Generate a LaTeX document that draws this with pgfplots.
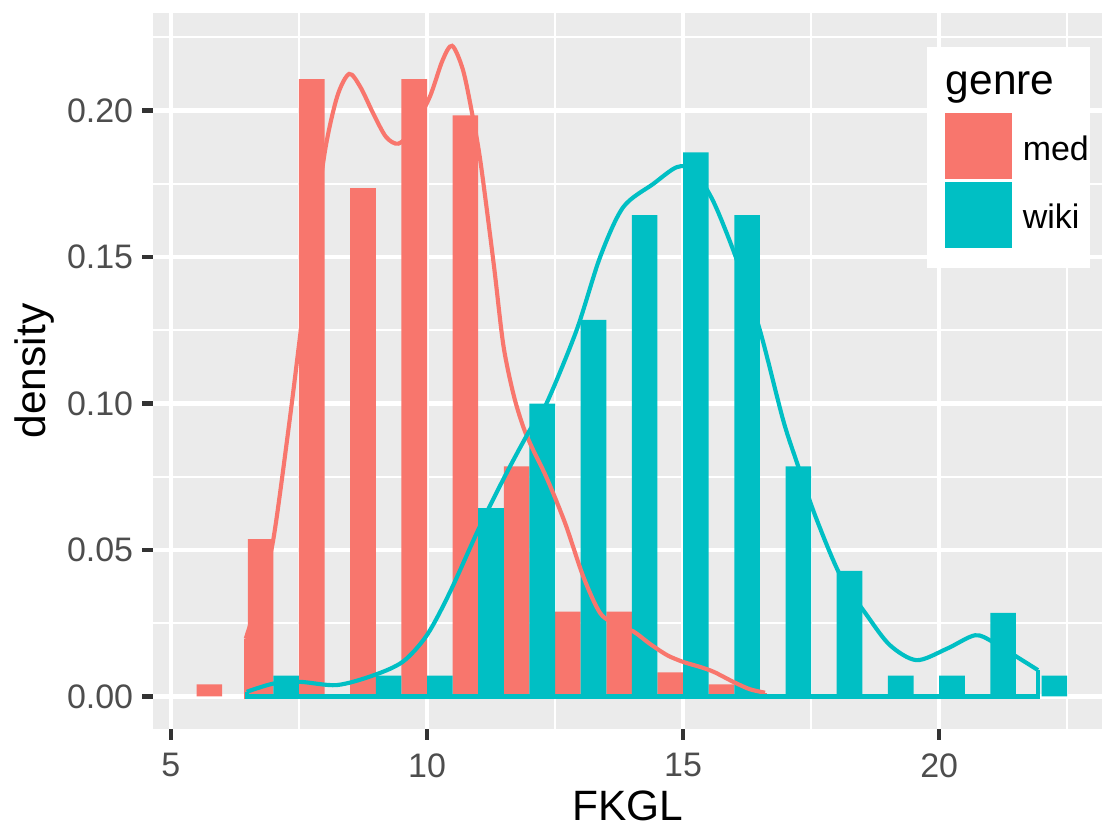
\documentclass[border=0pt]{standalone}
\usepackage{fontspec}
\setmainfont{Liberation Sans}
\usepackage{pgfplots}
\pgfplotsset{compat=1.18}
\definecolor{medc}{HTML}{F8766D}
\definecolor{wikic}{HTML}{00BFC4}
\definecolor{panel}{HTML}{EBEBEB}
\definecolor{tlc}{HTML}{4D4D4D}
\definecolor{tickc}{HTML}{333333}
\begin{document}
\begin{tikzpicture}
\begin{axis}[
  scale only axis, width=245.85pt, height=185.49pt,
  xmin=4.65, xmax=23.18, ymin=-0.0111, ymax=0.2333,
  axis background/.style={fill=panel},
  axis line style={draw=none},
  xtick={5,10,15,20}, ytick={0,0.05,0.1,0.15,0.2},
  minor xtick={7.5,12.5,17.5,22.5},
  minor ytick={0.025,0.075,0.125,0.175,0.225},
  grid=both,
  major grid style={white, line width=1.07pt},
  minor grid style={white, line width=0.53pt},
  tick align=outside, tick pos=left,
  major tick length=2.75pt, minor tick length=0pt,
  major tick style={color=tickc, line width=1.07pt},
  /pgf/number format/assume math mode=true,
  yticklabel style={/pgf/number format/fixed, /pgf/number format/fixed zerofill, /pgf/number format/precision=2, inner sep=0pt, xshift=-2.2pt},
  xticklabel style={inner sep=0pt, yshift=-3.4pt},
  ticklabel style={font=\fontsize{8.8}{10}\selectfont, color=tlc},
  xlabel={FKGL}, ylabel={density},
  xlabel style={at={(axis description cs:0.5,-0.1272)}, anchor=base, inner sep=0pt, font=\fontsize{11}{13}\selectfont},
  ylabel style={at={(axis description cs:-0.1245,0.5)}, anchor=center, inner sep=0pt, font=\fontsize{11}{13}\selectfont},
]
% histogram bars (density), med = left half of each bin, wiki = right half
\addplot[ybar, bar width=0.5, bar shift=0pt, fill=medc, draw=none] coordinates {
 (5.75,0.00413) (6.75,0.05372) (7.75,0.21074) (8.75,0.17355) (9.75,0.21074)
 (10.75,0.19835) (11.75,0.07851) (12.75,0.02893) (13.75,0.02893) (14.75,0.00826) (15.75,0.00413)};
\addplot[ybar, bar width=0.5, bar shift=0pt, fill=wikic, draw=none] coordinates {
 (7.25,0.00714) (9.25,0.00714) (10.25,0.00714) (11.25,0.06429) (12.25,0.1) (13.25,0.12857)
 (14.25,0.16429) (15.25,0.18571) (16.25,0.16429) (17.25,0.07857) (18.25,0.04286)
 (19.25,0.00714) (20.25,0.00714) (21.25,0.02857) (22.25,0.00714)};
% density curves
\addplot[medc, line width=1.07pt] coordinates {(6.46,0.0197) (6.46,0) (16.6,0) (16.6,0.0013)};
\addplot[medc, line width=1.07pt, smooth, tension=0.5] coordinates {
 (6.46,0.0197) (6.75,0.036) (7.0,0.0537) (7.32,0.0946) (7.55,0.127) (7.8,0.160)
 (8.02,0.1875) (8.25,0.205) (8.48,0.2125) (8.7,0.208) (8.95,0.199) (9.2,0.191)
 (9.44,0.1887) (9.7,0.193) (10.05,0.2045) (10.3,0.217) (10.49,0.2221) (10.7,0.214)
 (10.87,0.200) (11.04,0.183) (11.3,0.148) (11.49,0.120) (11.69,0.103) (11.88,0.092)
 (12.05,0.0850) (12.34,0.0745) (12.7,0.0590) (13.05,0.041) (13.38,0.0285) (13.7,0.0245)
 (14.03,0.0222) (14.35,0.018) (14.69,0.0141) (15.0,0.0118) (15.33,0.0101) (15.6,0.0084)
 (15.98,0.005) (16.3,0.0025) (16.6,0.0013)};
\addplot[wikic, line width=1.07pt] coordinates {(6.48,0.0016) (6.48,0) (21.93,0) (21.93,0.009)};
\addplot[wikic, line width=1.07pt, smooth, tension=0.5] coordinates {
 (6.48,0.0016) (7.0,0.0044) (7.52,0.005) (8.24,0.0039) (8.95,0.0072) (9.53,0.0119)
 (10.0,0.021) (10.45,0.0357) (11.03,0.058) (11.56,0.0765) (12.01,0.091) (12.34,0.1003)
 (12.92,0.125) (13.38,0.150) (13.83,0.167) (14.42,0.175) (14.88,0.1807) (15.2,0.1796)
 (15.59,0.169) (16.05,0.149) (16.5,0.125) (16.95,0.0946) (17.22,0.080) (17.58,0.0617)
 (18.07,0.0413) (18.59,0.0277) (19.04,0.0175) (19.56,0.0124) (20.15,0.0163) (20.7,0.0209)
 (21.05,0.0186) (21.52,0.0135) (21.93,0.009)};
% legend
\fill[white] (rel axis cs:0.8156,0.6439) rectangle (rel axis cs:0.9874,0.9525);
\fill[medc] (rel axis cs:0.8346,0.7682) rectangle (rel axis cs:0.9052,0.8603);
\fill[wikic] (rel axis cs:0.8346,0.6718) rectangle (rel axis cs:0.9052,0.7640);
\node[anchor=base west, inner sep=0pt, font=\fontsize{11}{13}\selectfont] at (rel axis cs:0.8346,0.8855) {genre};
\node[anchor=base west, inner sep=0pt, font=\fontsize{8.8}{10}\selectfont] at (rel axis cs:0.9157,0.7947) {med};
\node[anchor=base west, inner sep=0pt, font=\fontsize{8.8}{10}\selectfont] at (rel axis cs:0.9157,0.6997) {wiki};
\coordinate (sw) at (rel axis cs:0,0);
\coordinate (ne) at (rel axis cs:1,1);
\end{axis}
\pgfresetboundingbox
\path ([xshift=-39.64pt,yshift=-25.39pt]sw) rectangle ([yshift=3.37pt]ne);
\end{tikzpicture}
\end{document}
